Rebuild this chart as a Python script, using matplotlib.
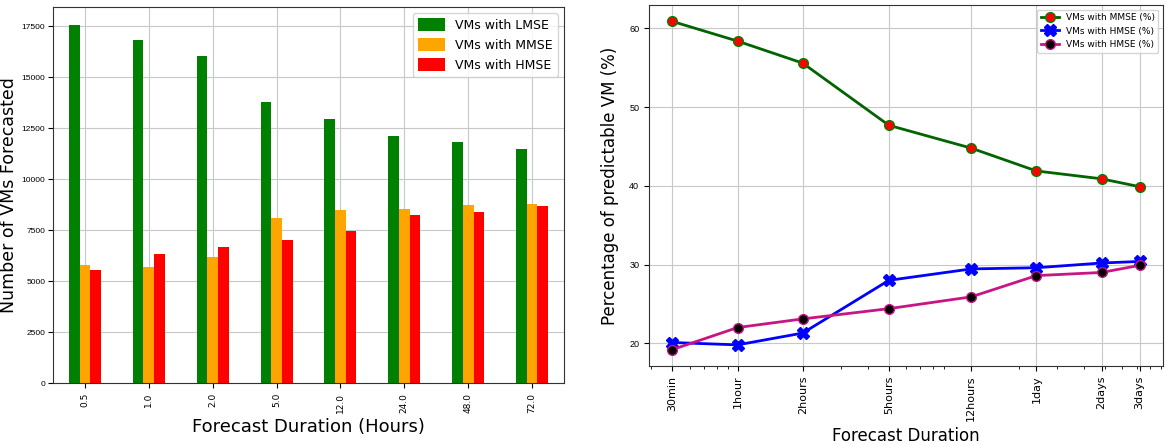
import numpy as np
import matplotlib
matplotlib.use('Agg')
import matplotlib.pyplot as plt
from matplotlib.ticker import FixedLocator, NullFormatter

# left chart data
hours = ['0.5', '1.0', '2.0', '5.0', '12.0', '24.0', '48.0', '72.0']
lmse = [17570, 16840, 16055, 13780, 12970, 12100, 11810, 11470]
mmse = [5775, 5710, 6165, 8090, 8480, 8530, 8710, 8775]
hmse = [5545, 6330, 6670, 7015, 7470, 8250, 8370, 8665]

# right chart data
dur = [0.5, 1, 2, 5, 12, 24, 48, 72]
dur_labels = ['30min', '1hour', '2hours', '5hours', '12hours', '1day', '2days', '3days']
pct_mmse = [60.9, 58.4, 55.6, 47.7, 44.8, 41.9, 40.9, 39.9]
pct_hmse = [20.1, 19.8, 21.3, 28.0, 29.45, 29.6, 30.2, 30.4]
pct_hmse2 = [19.2, 22.0, 23.1, 24.4, 25.9, 28.6, 29.0, 29.9]

fig = plt.figure(figsize=(11.67, 4.45), dpi=100)
ax1 = fig.add_axes([53/1167, 1-383/445, 511/1167, 376/445])
ax2 = fig.add_axes([649/1167, 1-366/445, 514/1167, 361/445])

# ---- bars
x = np.arange(len(hours))
w = 0.5/3
ax1.bar(x - w, lmse, w, color='green', label='VMs with LMSE', zorder=2)
ax1.bar(x, mmse, w, color='orange', label='VMs with MMSE', zorder=2)
ax1.bar(x + w, hmse, w, color='red', label='VMs with HMSE', zorder=2)
ax1.set_xlim(-0.5, len(hours) - 0.5)
ax1.set_ylim(0, max(lmse)*1.05)
ax1.set_xticks(x)
ax1.set_xticklabels(hours, rotation=90, fontsize=6.5)
ax1.set_yticks(np.arange(0, 17501, 2500))
ax1.tick_params(axis='y', labelsize=6, pad=2, labelfontfamily='Liberation Sans')
ax1.grid(True, color='#c8c8c8', zorder=0)
ax1.set_axisbelow(True)
ax1.set_ylabel('Number of VMs Forecasted', fontsize=12.5)
ax1.yaxis.set_label_coords(-0.068, 0.5)
ax1.set_xlabel('Forecast Duration (Hours)', fontsize=13)
ax1.legend(loc='upper right', fontsize=9, handlelength=2.2, handleheight=1.2)

# ---- lines
ax2.plot(dur, pct_mmse, color='darkgreen', lw=2, marker='o', ms=7,
         mfc='red', mec='green', label='VMs with MMSE (%)')
ax2.plot(dur, pct_hmse, color='blue', lw=2, marker='X', ms=8,
         mfc='blue', mec='blue', label='VMs with HMSE (%)')
ax2.plot(dur, pct_hmse2, color='mediumvioletred', lw=2, marker='o', ms=7,
         mfc='black', mec='mediumvioletred', label='VMs with HMSE (%)')
ax2.set_xscale('log')
ax2.xaxis.set_major_locator(FixedLocator(dur))
ax2.set_xticklabels(dur_labels, rotation=90, fontsize=8)
ax2.xaxis.set_minor_formatter(NullFormatter())
ax2.set_yticks([20, 30, 40, 50, 60])
ax2.tick_params(axis='y', labelsize=6.5, labelfontfamily='Liberation Sans')
ax2.grid(True, which='major', color='#c8c8c8')
ax2.set_axisbelow(True)
ax2.set_ylabel('Percentage of predictable VM (%)', fontsize=12)
ax2.yaxis.set_label_coords(-0.058, 0.5)
ax2.set_xlabel('Forecast Duration', fontsize=12)
ax2.legend(loc='upper right', fontsize=6.5)

for ax in (ax1, ax2):
    for s in ax.spines.values():
        s.set_color('#333333')

fig.savefig('out.png', dpi=100)
